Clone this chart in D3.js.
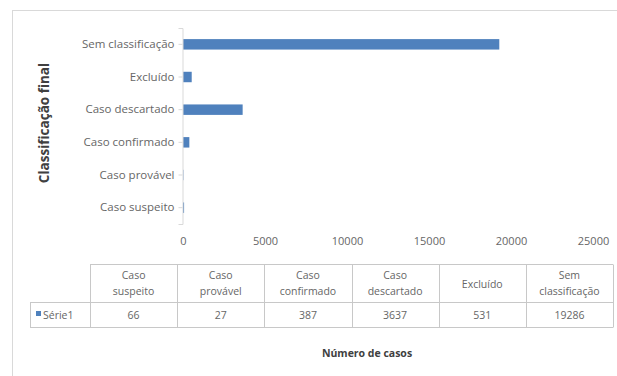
<!DOCTYPE html>
<html>
<head>
<meta charset="utf-8">
<script src="https://cdn.jsdelivr.net/npm/d3@7/dist/d3.min.js"></script>
<style>
  html, body { margin: 0; padding: 0; background: #fff; }
  svg { display: block; }
  text { font-family: "Open Sans", "DejaVu Sans", sans-serif; }
</style>
</head>
<body>
<svg id="chart" width="617" height="376"></svg>
<script>
// Categories in table order (bottom-to-top on the bar axis)
const categories = ["Caso suspeito", "Caso provável", "Caso confirmado", "Caso descartado", "Excluído", "Sem classificação"];
const headerLines = [["Caso", "suspeito"], ["Caso", "provável"], ["Caso", "confirmado"], ["Caso", "descartado"], ["Excluído"], ["Sem", "classificação"]];
const values = [66, 27, 387, 3637, 531, 19286];
const seriesName = "Série1";
const xTicks = [0, 5000, 10000, 15000, 20000, 25000];
const xTitle = "Número de casos";
const yTitle = "Classificação final";

const svg = d3.select("#chart");
const textColor = "#666666";
const gridColor = "#d9d9d9";
const barColor = "#4f81bd";

// Chart area border
svg.append("rect")
  .attr("x", 12.5).attr("y", 10.5)
  .attr("width", 620).attr("height", 380)
  .attr("fill", "#fff").attr("stroke", "#d9d9d9");

// Scales
const x = d3.scaleLinear().domain([0, 25000]).range([183, 593]);
const y = d3.scaleBand()
  .domain(categories.slice().reverse())
  .range([28, 224])
  .paddingInner(0.68).paddingOuter(0.34);

// Bars
svg.append("g").selectAll("rect")
  .data(categories.map((c, i) => ({ c, v: values[i] })))
  .join("rect")
  .attr("x", x(0))
  .attr("y", d => y(d.c))
  .attr("width", d => x(d.v) - x(0))
  .attr("height", y.bandwidth())
  .attr("fill", barColor);

// Vertical category axis
const yAxis = d3.axisLeft(y).tickSize(4).tickPadding(4);
const gy = svg.append("g").attr("transform", `translate(${x(0) - 0.5},0)`).call(yAxis);
gy.select(".domain").attr("stroke", gridColor);
gy.selectAll(".tick line").attr("stroke", gridColor);
gy.selectAll(".tick text").attr("fill", textColor).attr("font-size", 11.5);

// Value tick labels
const xAxis = d3.axisBottom(x).tickValues(xTicks).tickSize(0).tickPadding(0).tickFormat(d3.format("d"));
const gx = svg.append("g").attr("transform", "translate(0,237)").call(xAxis);
gx.select(".domain").remove();
gx.selectAll(".tick text").attr("fill", textColor).attr("font-size", 11);

// Y title
svg.append("text")
  .attr("transform", "translate(49,123) rotate(-90)")
  .attr("text-anchor", "middle")
  .attr("fill", "#404040")
  .attr("font-size", 13.5)
  .attr("font-weight", "bold")
  .text(yTitle);

// Data table
const colX = d3.scaleBand().domain(categories).range([90, 613]);
const tTop = 264.5, tMid = 302.5, tBot = 327.5;
const tbl = svg.append("g").attr("stroke", "#c8c8c8").attr("stroke-width", 1);
tbl.append("line").attr("x1", 90).attr("x2", 613).attr("y1", tTop).attr("y2", tTop);
tbl.append("line").attr("x1", 30).attr("x2", 613).attr("y1", tMid).attr("y2", tMid);
tbl.append("line").attr("x1", 30).attr("x2", 613).attr("y1", tBot).attr("y2", tBot);
tbl.append("line").attr("x1", 30.5).attr("x2", 30.5).attr("y1", tMid).attr("y2", tBot);
const edges = categories.map(c => colX(c)).concat([613]);
tbl.selectAll("line.v").data(edges).join("line")
  .attr("class", "v")
  .attr("x1", d => Math.round(d) + 0.5).attr("x2", d => Math.round(d) + 0.5)
  .attr("y1", tTop).attr("y2", tBot);

// Header cells and values
const hdr = svg.append("g");
categories.forEach((c, i) => {
  const lines = headerLines[i];
  const cx = colX(c) + colX.bandwidth() / 2;
  const startY = lines.length === 2 ? 279 : 288;
  lines.forEach((ln, j) => {
    hdr.append("text")
      .attr("x", cx).attr("y", startY + j * 16)
      .attr("text-anchor", "middle")
      .attr("fill", textColor).attr("font-size", 10.5)
      .text(ln);
  });
  hdr.append("text")
    .attr("x", cx).attr("y", 319)
    .attr("text-anchor", "middle")
    .attr("fill", textColor).attr("font-size", 10.5)
    .text(values[i]);
});

// Legend key in the table
svg.append("rect").attr("x", 36).attr("y", 311).attr("width", 5).attr("height", 5).attr("fill", barColor);
svg.append("text").attr("x", 43).attr("y", 319)
  .attr("fill", textColor).attr("font-size", 10.5).text(seriesName);

// X title
svg.append("text")
  .attr("x", 367).attr("y", 357)
  .attr("text-anchor", "middle")
  .attr("fill", "#404040")
  .attr("font-size", 10.5)
  .attr("font-weight", "bold")
  .text(xTitle);
</script>
</body>
</html>
